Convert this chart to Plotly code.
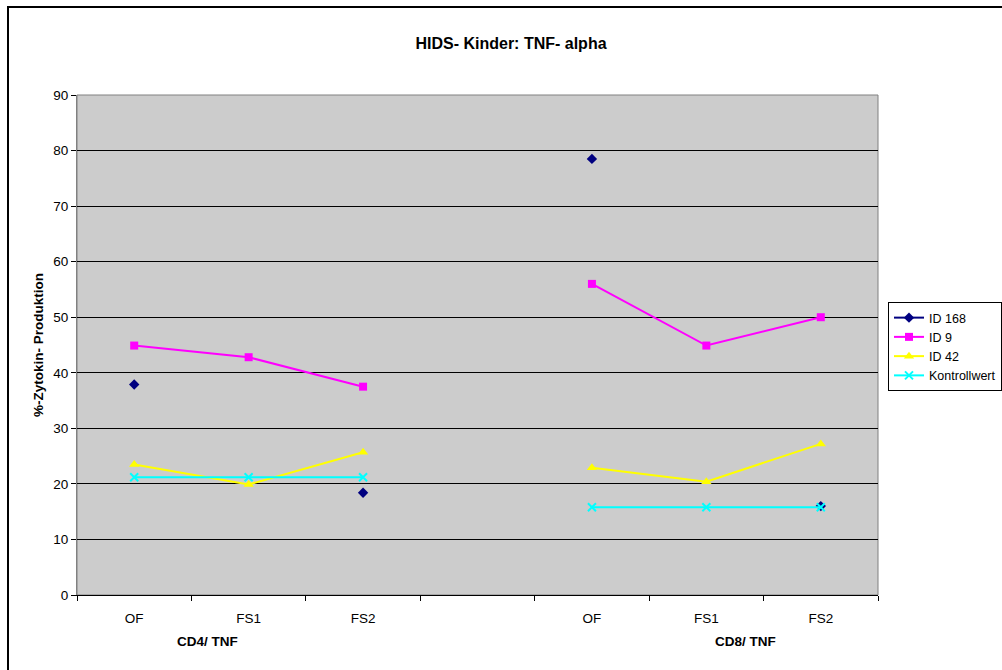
import plotly.graph_objects as go

# Categories (middle slot is an empty spacer between the two groups)
categories = ["OF", "FS1", "FS2", "", "OF", "FS1", "FS2"]
groups = ["CD4/ TNF", "CD8/ TNF"]

# Series values (None = no measurement)
id168 = [37.9, None, 18.4, None, 78.5, None, 16.0]
id9 = [44.9, 42.8, 37.5, None, 56.0, 44.9, 50.0]
id42 = [23.5, 19.9, 25.7, None, 22.9, 20.4, 27.2]
kontrollwert = [21.2, 21.2, 21.2, None, 15.8, 15.8, 15.8]

y_ticks = [0, 10, 20, 30, 40, 50, 60, 70, 80, 90]

FONT = "Arial, Liberation Sans, sans-serif"
FS = 13.5
x_idx = list(range(len(categories)))

fig = go.Figure()

series = [
    ("ID 168", id168, "#000080", "diamond", 8, 2),
    ("ID 9", id9, "#FF00FF", "square", 8, 2),
    ("ID 42", id42, "#FFFF00", "triangle-up", 9, 2),
    ("Kontrollwert", kontrollwert, "#00FFFF", "x-thin", 8, 2),
]
for name, vals, color, symbol, size, lw in series:
    marker = dict(symbol=symbol, size=size, color=color)
    if symbol == "x-thin":
        marker["line"] = dict(color=color, width=2)
    fig.add_trace(go.Scatter(
        x=x_idx, y=vals, name=name, mode="lines+markers",
        line=dict(color=color, width=lw), marker=marker,
        connectgaps=False, xaxis="x", yaxis="y",
    ))

# Invisible trace that carries the boundary tick marks
fig.add_trace(go.Scatter(x=[-0.5, 6.5], y=[None, None], xaxis="x2", yaxis="y",
                         showlegend=False, hoverinfo="skip"))

fig.update_layout(
    width=1002, height=670,
    margin=dict(l=77, r=124, t=95, b=75, autoexpand=False),
    paper_bgcolor="white",
    plot_bgcolor="#CCCCCC",
    font=dict(family=FONT, size=FS, color="black"),
    title=dict(text="<b>HIDS- Kinder: TNF- alpha</b>", x=511 / 1002, xanchor="center",
               y=1 - 43 / 670, yanchor="middle", font=dict(size=16, family=FONT)),
    xaxis=dict(
        range=[-0.5, 6.5], tickmode="array", tickvals=x_idx, ticktext=categories,
        showgrid=False, zeroline=False, showline=False, ticks="",
        ticklabelstandoff=13, tickfont=dict(size=FS),
    ),
    xaxis2=dict(
        overlaying="x", range=[-0.5, 6.5], tickmode="array",
        tickvals=[i - 0.5 for i in range(len(categories) + 1)],
        showticklabels=False, ticks="outside", ticklen=5, tickcolor="black",
        showline=True, linecolor="black", linewidth=1, showgrid=False, zeroline=False,
        anchor="y", side="bottom",
    ),
    yaxis=dict(
        range=[0, 90], tickmode="array", tickvals=y_ticks,
        ticks="outside", ticklen=5, tickcolor="black",
        showgrid=True, gridcolor="black", gridwidth=1,
        showline=True, linecolor="#808080", linewidth=1, zeroline=False,
        tickfont=dict(size=FS),
    ),
    legend=dict(
        x=(888 - 77) / 801, y=(595 - 302) / 500, xanchor="left", yanchor="top",
        bgcolor="white", bordercolor="black", borderwidth=1,
        font=dict(size=12.5, family=FONT), itemwidth=30, tracegroupgap=0,
    ),
    showlegend=True,
)

# Y axis title
fig.add_annotation(text="<b>%-Zytokin- Produktion</b>", textangle=-90,
                   xref="paper", yref="paper", x=(38 - 77) / 801, y=0.5,
                   xanchor="center", yanchor="middle",
                   showarrow=False, font=dict(size=FS, family=FONT))

# Group labels under the category labels
for gx, label in zip([0.64, 5.34], groups):
    fig.add_annotation(text="<b>" + label + "</b>", xref="x", yref="paper",
                       x=gx, y=(595 - 641) / 500, xanchor="center", yanchor="middle",
                       showarrow=False, font=dict(size=FS, family=FONT))

# Plot area border and outer chart frame
fig.add_shape(type="rect", xref="paper", yref="paper", x0=0, y0=0, x1=1, y1=1,
              line=dict(color="#808080", width=1), layer="below")
fig.add_shape(type="rect", xref="paper", yref="paper",
              x0=(8 - 77) / 801, y0=(595 - 690) / 500,
              x1=(1020 - 77) / 801, y1=(595 - 7) / 500,
              line=dict(color="black", width=2), layer="above")

fig.write_html("out.html")
